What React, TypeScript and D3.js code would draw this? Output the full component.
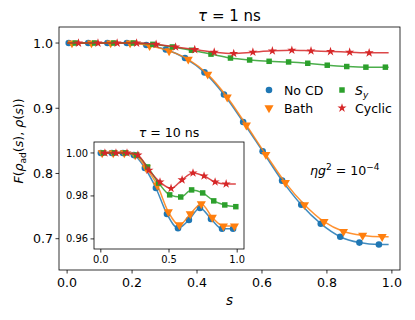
import React from "react";
import * as d3 from "d3";

// main panel, tau = 1 ns
const mainBlueS = [0.005, 0.065, 0.124, 0.184, 0.244, 0.304, 0.363, 0.423, 0.483, 0.542, 0.602, 0.662, 0.721, 0.781, 0.841, 0.9, 0.96];
const mainBlueF = [1.0, 1.0, 1.0, 1.0, 0.997, 0.99, 0.977, 0.955, 0.921, 0.879, 0.834, 0.789, 0.752, 0.723, 0.703, 0.694, 0.691];
const mainOrangeS = [0.015, 0.075, 0.134, 0.194, 0.254, 0.314, 0.373, 0.433, 0.493, 0.552, 0.612, 0.672, 0.731, 0.791, 0.851, 0.91, 0.97];
const mainOrangeF = [1.0, 1.0, 1.0, 1.0, 0.996, 0.988, 0.975, 0.952, 0.917, 0.874, 0.829, 0.786, 0.752, 0.726, 0.711, 0.705, 0.703];
const mainGreenS = [0.025, 0.085, 0.144, 0.204, 0.264, 0.324, 0.383, 0.443, 0.503, 0.562, 0.622, 0.682, 0.741, 0.801, 0.861, 0.92, 0.98];
const mainGreenF = [1.0, 1.0, 1.0, 1.0, 0.998, 0.994, 0.989, 0.983, 0.977, 0.974, 0.972, 0.971, 0.969, 0.966, 0.964, 0.963, 0.963];
const mainRedS = [0.035, 0.095, 0.154, 0.214, 0.274, 0.334, 0.393, 0.453, 0.513, 0.572, 0.632, 0.692, 0.751, 0.811, 0.87, 0.93];
const mainRedF = [1.0, 1.0, 1.0, 1.0, 0.998, 0.994, 0.99, 0.986, 0.984, 0.986, 0.988, 0.989, 0.988, 0.987, 0.986, 0.985];

// inset, tau = 10 ns
const insetBlueS = [0, 0.081, 0.162, 0.242, 0.323, 0.404, 0.485, 0.566, 0.646, 0.727, 0.808, 0.889, 0.97];
const insetBlueF = [1.0, 1.0, 1.0, 0.999, 0.993, 0.9837, 0.9716, 0.965, 0.9688, 0.9744, 0.9693, 0.9647, 0.9647];
const insetOrangeS = [0.01, 0.091, 0.172, 0.252, 0.333, 0.414, 0.495, 0.576, 0.656, 0.737, 0.818, 0.899, 0.98];
const insetOrangeF = [1.0, 1.0, 1.0, 0.999, 0.993, 0.985, 0.9726, 0.9665, 0.9716, 0.9763, 0.97, 0.966, 0.966];
const insetGreenS = [0.02, 0.101, 0.182, 0.262, 0.343, 0.424, 0.505, 0.586, 0.666, 0.747, 0.828, 0.909, 0.99];
const insetGreenF = [1.0, 1.0, 1.0, 0.999, 0.9935, 0.986, 0.9805, 0.9795, 0.9828, 0.9814, 0.9777, 0.9758, 0.975];
const insetRedS = [0.03, 0.111, 0.192, 0.272, 0.353, 0.434, 0.515, 0.596, 0.676, 0.757, 0.838, 0.919];
const insetRedF = [1.0, 1.0, 1.0, 0.999, 0.992, 0.9865, 0.9835, 0.9875, 0.9907, 0.9893, 0.9865, 0.9856];

const mainXTicks = [0.0, 0.2, 0.4, 0.6, 0.8, 1.0];
const mainYTicks = [0.7, 0.8, 0.9, 1.0];
const insetXTicks = [0.0, 0.5, 1.0];
const insetYTicks = [0.96, 0.98, 1.0];

const FONT = "DejaVu Sans, sans-serif";
const colors = { blue: "#1f77b4", orange: "#ff7f0e", green: "#2ca02c", red: "#d62728" };

const markerPaths = {
  circle: d3.symbol().type(d3.symbolCircle).size(34)(),
  tri: d3.symbol().type(d3.symbolTriangle).size(36)(),
  square: d3.symbol().type(d3.symbolSquare).size(30)(),
  star: d3.symbol().type(d3.symbolStar).size(26)(),
};

const Marker = ({ kind, x, y, color }) => (
  <path
    d={markerPaths[kind]}
    fill={color}
    transform={`translate(${x},${y})${kind === "tri" ? " rotate(180)" : ""}`}
  />
);

const Series = ({ s, f, kind, color, x, y, end }) => {
  const pts = s.map((v, i) => [v, f[i]]);
  const linePts = [[0, f[0]], ...pts.filter((p) => p[0] > 0 && p[0] < end), [end, f[f.length - 1]]];
  const line = d3
    .line()
    .x((d) => x(d[0]))
    .y((d) => y(d[1]))
    .curve(d3.curveMonotoneX);
  return (
    <g>
      <path d={line(linePts)} fill="none" stroke={color} strokeWidth={1.5} opacity={0.85} />
      {pts.map((p, i) => (
        <Marker key={i} kind={kind} x={x(p[0])} y={y(p[1])} color={color} />
      ))}
    </g>
  );
};

const Frame = ({ x, y, xTicks, yTicks, xFmt, yFmt, fs }) => {
  const [x0, x1] = x.range();
  const [y0, y1] = y.range();
  return (
    <g fontFamily={FONT} fontSize={fs}>
      <rect x={x0} y={y1} width={x1 - x0} height={y0 - y1} fill="none" stroke="#000" strokeWidth={0.8} />
      {xTicks.map((t) => (
        <g key={t}>
          <line x1={x(t)} x2={x(t)} y1={y0} y2={y0 + 3.5} stroke="#000" strokeWidth={0.8} />
          <text x={x(t)} y={y0 + 5 + fs * 0.95} textAnchor="middle">{xFmt(t)}</text>
        </g>
      ))}
      {yTicks.map((t) => (
        <g key={t}>
          <line x1={x0 - 3.5} x2={x0} y1={y(t)} y2={y(t)} stroke="#000" strokeWidth={0.8} />
          <text x={x0 - 6} y={y(t) + fs * 0.36} textAnchor="end">{yFmt(t)}</text>
        </g>
      ))}
    </g>
  );
};

export default function App() {
  const x = d3.scaleLinear().domain([-0.025, 1.025]).range([59, 400]);
  const y = d3.scaleLinear().domain([0.652, 1.0246]).range([270, 27]);
  const xi = d3.scaleLinear().domain([-0.05, 1.05]).range([94, 244]);
  const yi = d3.scaleLinear().domain([0.9553, 1.0051]).range([249, 142]);
  const f1 = d3.format(".1f");
  const f2 = d3.format(".2f");

  return (
    <svg width={415} height={320} style={{ position: "absolute", left: 0, top: 0, background: "#fff" }}>
      <rect width={415} height={320} fill="#fff" />
      <g clipPath="url(#mainClip)">
        <Series s={mainBlueS} f={mainBlueF} kind="circle" color={colors.blue} x={x} y={y} end={0.99} />
        <Series s={mainOrangeS} f={mainOrangeF} kind="tri" color={colors.orange} x={x} y={y} end={0.99} />
        <Series s={mainGreenS} f={mainGreenF} kind="square" color={colors.green} x={x} y={y} end={0.99} />
        <Series s={mainRedS} f={mainRedF} kind="star" color={colors.red} x={x} y={y} end={0.99} />
      </g>
      <Frame x={x} y={y} xTicks={mainXTicks} yTicks={mainYTicks} xFmt={f1} yFmt={f1} fs={12.6} />

      <text x={229.5} y={21} textAnchor="middle" fontFamily={FONT} fontSize={15}>
        <tspan fontStyle="italic">τ</tspan> = 1 ns
      </text>
      <text x={229.5} y={305} textAnchor="middle" fontFamily={FONT} fontSize={13.5} fontStyle="italic">s</text>
      <text transform="translate(23,141) rotate(-90)" textAnchor="middle" fontFamily={FONT} fontSize={12.6}>
        <tspan fontStyle="italic">F</tspan>(<tspan fontStyle="italic">ρ</tspan>
        <tspan fontSize={9} dy={3}>ad</tspan>
        <tspan dy={-3}>(</tspan><tspan fontStyle="italic">s</tspan>), <tspan fontStyle="italic">ρ</tspan>(<tspan fontStyle="italic">s</tspan>))
      </text>

      {/* legend */}
      <g fontFamily={FONT} fontSize={12.5}>
        <Marker kind="circle" x={269} y={90} color={colors.blue} />
        <text x={284} y={94.5}>No CD</text>
        <Marker kind="tri" x={269} y={108} color={colors.orange} />
        <text x={284} y={112.5}>Bath</text>
        <Marker kind="square" x={342} y={90} color={colors.green} />
        <text x={355} y={94.5}>
          <tspan fontStyle="italic">S</tspan>
          <tspan fontStyle="italic" fontSize={9} dy={3}>y</tspan>
        </text>
        <Marker kind="star" x={342} y={108} color={colors.red} />
        <text x={355} y={112.5}>Cyclic</text>
      </g>

      <text x={310} y={175} fontFamily={FONT} fontSize={12.6}>
        <tspan fontStyle="italic">ηg</tspan>
        <tspan fontSize={9} dy={-5}>2</tspan>
        <tspan dy={5}> = 10</tspan>
        <tspan fontSize={9} dy={-5}>−4</tspan>
      </text>

      {/* inset */}
      <rect x={94} y={142} width={150} height={107} fill="#fff" />
      <g>
        <Series s={insetBlueS} f={insetBlueF} kind="circle" color={colors.blue} x={xi} y={yi} end={0.99} />
        <Series s={insetOrangeS} f={insetOrangeF} kind="tri" color={colors.orange} x={xi} y={yi} end={0.99} />
        <Series s={insetGreenS} f={insetGreenF} kind="square" color={colors.green} x={xi} y={yi} end={0.99} />
        <Series s={insetRedS} f={insetRedF} kind="star" color={colors.red} x={xi} y={yi} end={0.99} />
      </g>
      <Frame x={xi} y={yi} xTicks={insetXTicks} yTicks={insetYTicks} xFmt={f1} yFmt={f2} fs={9.9} />
      <text x={169} y={137} textAnchor="middle" fontFamily={FONT} fontSize={12.6}>
        <tspan fontStyle="italic">τ</tspan> = 10 ns
      </text>
    </svg>
  );
}
